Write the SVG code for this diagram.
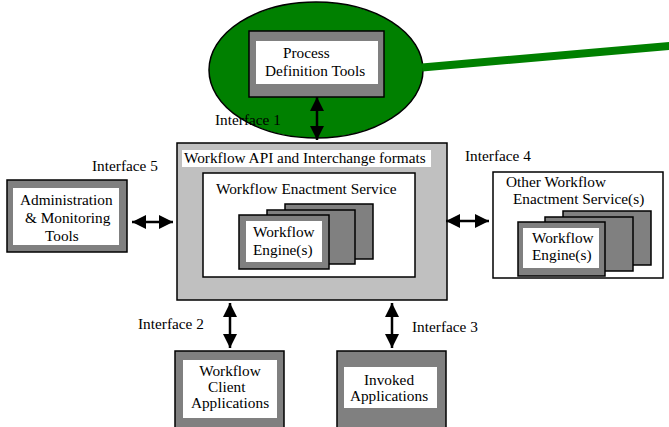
<svg xmlns="http://www.w3.org/2000/svg" width="669" height="427" viewBox="0 0 669 427">
  <style>
    .t { font-family: "Liberation Serif", "Times New Roman", serif; font-size: 15.3px; fill: #000; }
    .frame { fill: #808080; stroke: #000; stroke-width: 1.5; }
    .pane { fill: #fff; }
    .box { fill: #fff; stroke: #000; stroke-width: 1.5; }
    .core { fill: #c0c0c0; stroke: #000; stroke-width: 1.5; }
    .link { stroke: #000; stroke-width: 2.5; fill: none; marker-start: url(#head); marker-end: url(#head); }
  </style>
  <defs>
    <marker id="head" markerUnits="userSpaceOnUse" markerWidth="14" markerHeight="14" refX="14" refY="7" orient="auto-start-reverse" viewBox="0 0 14 14">
      <path d="M0,0 L14,7 L0,14 z" fill="#000"/>
    </marker>
  </defs>
  <rect width="669" height="427" fill="#fff"/>

  <!-- process definition tools, inside the green ellipse -->
  <g id="process-definition">
    <ellipse cx="316" cy="70" rx="107" ry="68" fill="#008000" stroke="#000" stroke-width="1.5"/>
    <line x1="422" y1="67.5" x2="675" y2="45.5" stroke="#008000" stroke-width="8"/>
    <rect class="frame" x="249" y="31" width="135" height="66"/>
    <rect class="pane" x="256" y="41" width="122" height="43"/>
    <text class="t" x="283" y="58">Process</text>
    <text class="t" x="265" y="76">Definition Tools</text>
  </g>

  <!-- central enactment block -->
  <g id="workflow-api">
    <rect class="core" x="177" y="143" width="270" height="157"/>
    <rect class="pane" x="182" y="150" width="249" height="17"/>
    <text class="t" x="184" y="163">Workflow API and Interchange formats</text>
    <rect class="box" x="203" y="173" width="212" height="104"/>
    <text class="t" x="216" y="194">Workflow Enactment Service</text>
    <rect class="frame" x="285" y="204" width="88" height="55"/>
    <rect class="frame" x="267" y="210" width="88" height="54"/>
    <rect class="frame" x="239" y="215" width="90" height="54"/>
    <rect class="pane" x="246" y="221" width="76" height="41"/>
    <text class="t" x="253" y="237">Workflow</text>
    <text class="t" x="253" y="255">Engine(s)</text>
  </g>

  <g id="admin-tools">
    <rect class="frame" x="7" y="180" width="120" height="72"/>
    <rect class="pane" x="13" y="188" width="106" height="57"/>
    <text class="t" x="20" y="205">Administration</text>
    <text class="t" x="25" y="223">&amp; Monitoring</text>
    <text class="t" x="45" y="241">Tools</text>
  </g>

  <g id="other-enactment">
    <rect class="box" x="493" y="172" width="170" height="106"/>
    <text class="t" x="506" y="187">Other Workflow</text>
    <text class="t" x="513" y="204">Enactment Service(s)</text>
    <rect class="frame" x="563" y="211" width="88" height="54"/>
    <rect class="frame" x="545" y="217" width="88" height="54"/>
    <rect class="frame" x="518" y="222" width="87" height="54"/>
    <rect class="pane" x="523" y="228" width="76" height="40"/>
    <text class="t" x="532" y="243">Workflow</text>
    <text class="t" x="532" y="260">Engine(s)</text>
  </g>

  <g id="client-apps">
    <rect class="frame" x="175" y="351" width="109" height="80"/>
    <rect class="pane" x="183" y="360" width="94" height="58"/>
    <text class="t" x="230" y="376" text-anchor="middle">Workflow</text>
    <text class="t" x="208" y="392">Client</text>
    <text class="t" x="230" y="408" text-anchor="middle">Applications</text>
  </g>

  <g id="invoked-apps">
    <rect class="frame" x="337" y="351" width="109" height="80"/>
    <rect class="pane" x="344" y="367" width="93" height="41"/>
    <text class="t" x="389" y="385" text-anchor="middle">Invoked</text>
    <text class="t" x="389" y="401" text-anchor="middle">Applications</text>
  </g>

  <!-- interface connectors -->
  <g id="connectors">
    <line class="link" x1="317" y1="97" x2="317" y2="140"/>
    <line class="link" x1="132" y1="222" x2="173" y2="222"/>
    <line class="link" x1="446" y1="221" x2="489" y2="221"/>
    <line class="link" x1="230" y1="303" x2="230" y2="348"/>
    <line class="link" x1="392" y1="303" x2="392" y2="348"/>
  </g>

  <g id="interface-labels">
    <text class="t" x="215" y="125">Interface 1</text>
    <text class="t" x="138" y="329">Interface 2</text>
    <text class="t" x="412" y="332">Interface 3</text>
    <text class="t" x="465" y="161">Interface 4</text>
    <text class="t" x="92" y="171">Interface 5</text>
  </g>
</svg>
